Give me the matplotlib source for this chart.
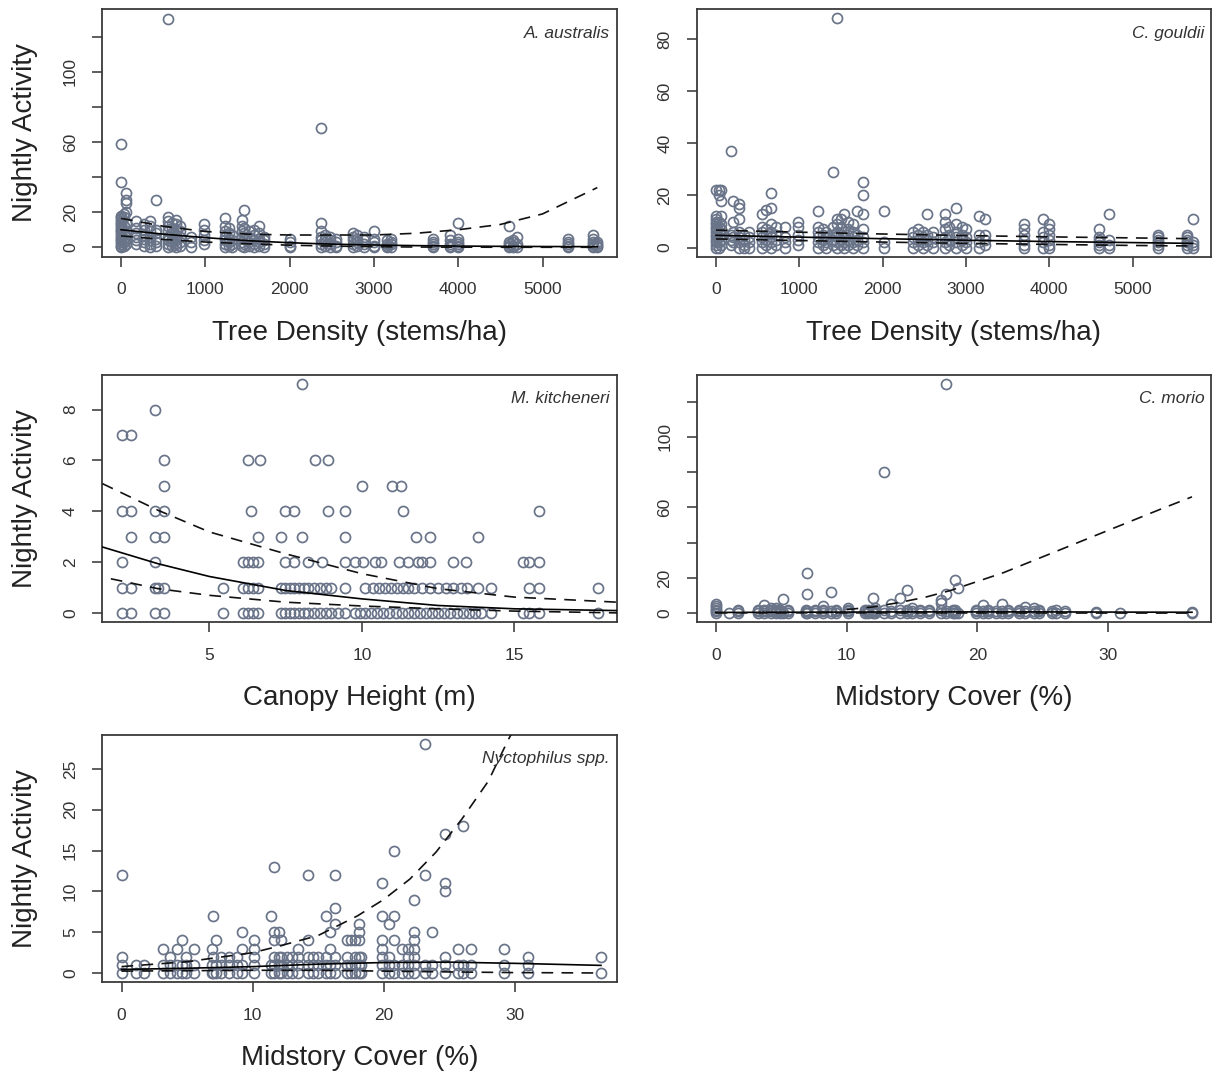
import matplotlib
matplotlib.use("Agg")
import matplotlib.pyplot as plt
import numpy as np

plt.rcParams['font.family'] = ['Liberation Sans', 'DejaVu Sans']

# ---------------- data ----------------
# Panel 1: A. australis vs tree density
aa_sites = [0, 30, 65, 175, 270, 340, 410, 555, 600, 650, 700, 830, 980, 1230, 1280,
            1320, 1440, 1460, 1520, 1580, 1640, 1700, 2000, 2370, 2420, 2480, 2550,
            2750, 2800, 2880, 3000, 3150, 3200, 3700, 3900, 4000, 4600, 4650, 4700,
            5300, 5600, 5650]
aa_vals = [[0, 1, 2, 3, 4, 5, 6, 7, 8, 9, 10, 11, 12, 13, 14, 15, 16, 17, 18, 37, 59],
           [1, 3, 5, 8, 12, 17, 19], [2, 4, 6, 9, 14, 20, 25, 27, 31],
           [2, 4, 6, 8, 11, 15], [1, 3, 5, 7, 10, 13], [0, 2, 4, 6, 9, 12, 15],
           [1, 3, 5, 8, 10, 27], [0, 2, 4, 6, 9, 12, 15, 17, 130], [1, 3, 5, 8, 11, 14],
           [0, 2, 4, 7, 10, 13, 15.5], [1, 3, 6, 9, 12], [0, 3, 6], [2, 4, 7, 10, 13],
           [0, 2, 4, 6, 9, 12, 16.5], [1, 3, 5, 8, 11], [0, 2, 4, 7],
           [1, 3, 6, 9, 12, 15.6], [0, 2, 5, 8, 11, 21], [1, 3, 6, 9], [0, 2, 4, 7, 10],
           [1, 3, 5, 8, 12], [0, 2, 4, 6], [0, 1, 3, 5], [0, 2, 4, 6, 9, 14, 68],
           [1, 3, 5, 7], [0, 2, 4, 6], [0, 1, 3, 5], [0, 2, 4, 6, 8], [1, 3, 5, 7],
           [0, 2, 4, 6], [0, 1, 3, 5, 9.3], [0, 1, 2, 4], [0, 2, 3, 5], [0, 1, 2, 3, 5],
           [0, 1, 2, 4, 7], [0, 1, 2, 3, 5, 14], [0, 1, 2, 3, 12], [0, 1, 3, 4],
           [0, 2, 6], [0, 1, 2, 3, 5], [0, 1, 2, 3, 5, 7], [0, 1, 2, 3]]
aa_cx = [0, 500, 1000, 1500, 2000, 2500, 3000, 3500, 4000, 4500, 5000, 5650]
aa_fit = [10, 7.5, 5.5, 3.8, 2.6, 1.8, 1.3, 0.95, 0.7, 0.55, 0.45, 0.35]
aa_hi = [16.5, 12, 9, 7.5, 7, 7, 7, 8, 10, 13, 19, 34]
aa_lo = [6.5, 4.5, 3.0, 2.0, 1.2, 0.7, 0.35, 0.15, 0.08, 0.04, 0.02, 0.01]

# Panel 2: C. gouldii vs tree density
cg_sites = [0, 30, 65, 185, 200, 280, 340, 400, 555, 600, 660, 720, 830, 985, 1225,
            1280, 1320, 1400, 1450, 1500, 1530, 1580, 1640, 1690, 1760, 2020, 2370,
            2420, 2480, 2530, 2600, 2750, 2800, 2880, 2950, 3000, 3160, 3225, 3700,
            3920, 4000, 4600, 4720, 5300, 5650, 5720]
cg_vals = [[0, 1, 2, 3, 4, 5, 6, 7, 8, 9, 10, 11, 12, 22], [0, 2, 4, 6, 8, 10, 20, 22],
           [1, 3, 5, 7, 9, 12, 18, 22], [1, 3, 5, 37], [2, 4, 6, 10, 18],
           [0, 2, 4, 6, 11, 15, 16.6], [0, 1, 3, 5], [0, 2, 4, 6], [0, 2, 4, 6, 8, 13],
           [1, 3, 5, 7, 14.5], [0, 2, 4, 6, 9, 15, 21], [1, 3, 5, 8], [0, 2, 4, 8],
           [1, 3, 5, 8, 10], [0, 2, 4, 6, 8, 14], [1, 3, 5, 7], [0, 2, 4, 6],
           [1, 3, 5, 8, 29], [0, 2, 4, 6, 9, 11, 88], [1, 3, 5, 8, 11], [0, 2, 4, 6, 13],
           [1, 3, 5, 7, 10], [0, 2, 4, 6, 9], [1, 3, 5, 14], [0, 2, 4, 7, 13, 20, 25],
           [0, 2, 14], [0, 2, 4, 6], [1, 3, 5, 7], [0, 2, 4, 6], [1, 3, 5, 13],
           [0, 2, 4, 6], [0, 2, 4, 7, 10, 13], [1, 3, 5, 8], [0, 2, 4, 6, 9, 15],
           [1, 3, 5, 8], [0, 2, 4, 7], [0, 2, 5, 12], [1, 3, 5, 11], [0, 1, 3, 5, 7, 9],
           [0, 2, 4, 6, 11], [0, 1, 3, 5, 7, 9], [0, 1, 2, 3, 4, 7], [0, 1, 3, 13],
           [0, 1, 2, 3, 4, 5], [0, 1, 2, 3, 4, 5], [0, 1, 2, 11]]
cg_cx = [0, 1000, 2000, 3000, 4000, 5000, 5720]
cg_fit = [4.7, 4.0, 3.4, 2.8, 2.3, 1.9, 1.6]
cg_hi = [6.7, 5.9, 5.2, 4.6, 4.1, 3.7, 3.4]
cg_lo = [3.3, 2.7, 2.1, 1.6, 1.2, 0.8, 0.6]

# Panel 3: M. kitcheneri vs canopy height
mk_x = [8.04,
        3.22,
        2.13, 2.42,
        3.51, 6.27, 6.65, 8.45, 8.88,
        3.51, 10.0, 10.97, 11.27,
        2.13, 2.42, 3.22, 3.51, 6.36, 7.49, 7.78, 8.88, 9.46, 11.33, 15.79,
        2.42, 3.22, 3.51, 6.59, 7.35, 8.04, 9.46, 11.76, 12.23, 13.79,
        2.13, 3.22, 6.1, 6.27, 6.42, 6.59, 7.49, 7.78, 8.23, 8.68, 9.46, 9.78, 10.04,
        10.43, 10.62, 11.2, 11.52, 11.85, 11.98, 12.23, 13.0, 13.4, 15.27, 15.47, 15.79,
        2.13, 2.42, 3.22, 3.32, 3.51, 5.45, 6.1, 6.27, 6.42, 6.59, 7.35, 7.49, 7.64,
        7.78, 7.95, 8.1, 8.23, 8.42, 8.62, 8.81, 9.0, 9.46, 10.1, 10.35, 10.55, 10.75,
        10.95, 11.14, 11.33, 11.52, 11.72, 11.98, 12.23, 12.5, 12.75, 13.0, 13.26,
        13.45, 13.79, 14.24, 15.47, 15.79, 17.73,
        2.13, 2.42, 3.22, 3.51, 5.45, 6.1, 6.27, 6.42, 6.59, 7.35, 7.49, 7.64, 7.78,
        7.95, 8.1, 8.23, 8.42, 8.62, 8.81, 9.0, 9.2, 9.46, 9.78, 9.95, 10.1, 10.3, 10.5,
        10.7, 10.9, 11.1, 11.3, 11.5, 11.7, 11.9, 12.1, 12.3, 12.5, 12.7, 12.9, 13.1,
        13.3, 13.5, 13.7, 13.9, 14.24, 15.27, 15.47, 15.79, 17.73]
mk_y = ([9] + [8] + [7] * 2 + [6] * 5 + [5] * 4 + [4] * 11 + [3] * 10 + [2] * 25
        + [1] * 43 + [0] * 49)
mk_cx = [1.49, 3.32, 5, 7.5, 10, 12.5, 15, 18.37]
mk_fit = [2.6, 1.94, 1.44, 0.89, 0.56, 0.30, 0.17, 0.10]
mk_hi = [5.09, 4.04, 3.19, 2.33, 1.55, 0.96, 0.63, 0.43]
mk_lcx = [1.77, 3.32, 5, 7.5, 10, 12.5, 15, 18.37]
mk_lo = [1.35, 0.96, 0.70, 0.43, 0.28, 0.17, 0.08, 0.01]

# Panel 4: C. morio vs midstory cover
cm_sites = [0, 1.0, 1.7, 3.2, 3.7, 4.2, 4.6, 4.9, 5.1, 5.5, 6.9, 7.0, 7.6, 8.2, 8.8,
            9.2, 10.1, 11.4, 11.6, 12.0, 12.2, 12.85, 13.4, 14.1, 14.6, 15.0, 15.6,
            16.3, 17.2, 17.6, 18.1, 18.3, 18.5, 19.9, 20.4, 20.8, 21.4, 21.9, 22.3,
            23.2, 23.6, 24.3, 24.7, 25.7, 26.0, 26.7, 29.1, 30.9, 36.4]
cm_vals = [[0, 1, 2, 3, 4, 5], [0], [0, 1, 2], [0, 1, 2], [0, 1, 2, 4.4], [0, 1, 2, 3],
           [0, 1, 2, 3], [0, 1, 2], [0, 7.8], [0, 1, 2], [0, 1, 2], [0, 1, 11, 23],
           [0, 1, 2], [0, 1, 2, 4], [0, 1, 12], [0, 1, 2], [0, 1, 2, 3], [0, 1, 2],
           [0, 1, 2], [0, 1, 2, 8.8], [0, 1, 3], [0, 2, 80], [0, 1, 5.3], [0, 2, 8.8],
           [0, 1, 2, 13], [0, 1, 3], [0, 1, 2], [0, 1, 2], [0, 2, 5.7, 7.6],
           [0, 1, 11, 130], [0, 1, 2], [0, 2, 18.7], [0, 14], [0, 1, 2], [0, 1, 4.4],
           [0, 1, 2], [0, 1], [0, 1, 5.3], [0, 1, 2], [0, 1, 2], [0, 1, 3.4], [0, 1, 3],
           [0, 1, 2], [0, 1], [0, 2], [0, 1], [0, 0.6], [0], [0, 0.5]]
cm_cx = [0, 5, 10, 15, 20, 25, 30, 36.4]
cm_fit = [0.4, 0.5, 0.6, 0.7, 0.7, 0.7, 0.6, 0.5]
cm_lo = [0.15, 0.15, 0.15, 0.12, 0.1, 0.08, 0.05, 0.03]
cm_hcx = [10, 12, 14, 16, 18, 20, 22, 24, 26, 28, 30, 32, 34, 36.4]
cm_hi = [2, 3.5, 6, 9, 13, 18, 23, 29, 35, 41, 47, 53, 59, 66]

# Panel 5: Nyctophilus spp. vs midstory cover
ny_sites = [0, 1.1, 1.7, 3.2, 3.7, 4.2, 4.6, 4.9, 5.5, 6.9, 7.0, 7.2, 7.6, 8.2, 8.8,
            9.2, 10.1, 11.4, 11.6, 12.0, 12.2, 12.6, 13.0, 13.5, 14.2, 14.6, 15.0,
            15.6, 15.9, 16.3, 17.2, 17.5, 17.8, 18.1, 18.3, 19.9, 20.4, 20.8, 21.4,
            21.9, 22.3, 23.2, 23.7, 24.7, 25.7, 26.1, 26.7, 29.2, 31.0, 36.6]
ny_vals = [[0, 1, 2, 12], [0, 1], [0, 1], [0, 1, 3], [0, 1, 2], [0, 1, 3], [0, 1, 4],
           [0, 1, 2], [0, 1, 3], [0, 1, 3], [0, 2, 7], [0, 1, 4], [0, 1, 2], [0, 1, 2],
           [0, 1, 2], [0, 1, 3, 5], [0, 1, 2, 3, 4], [0, 1, 7], [0, 1, 2, 4, 5, 13],
           [0, 1, 2, 5], [0, 1, 2, 4], [0, 1, 2], [0, 1, 2], [0, 1, 2, 3],
           [0, 1, 2, 4, 12], [0, 1, 2], [0, 1, 2], [0, 1, 2, 7], [0, 1, 3, 5],
           [0, 1, 2, 6, 8, 12], [0, 1, 2, 4], [0, 1, 4], [0, 1, 2, 4], [0, 1, 2, 4, 5, 6],
           [0, 1, 2], [0, 1, 2, 3, 4, 7, 11], [0, 1, 2, 6], [0, 1, 4, 7, 15], [0, 1, 3],
           [0, 1, 2, 3], [0, 1, 2, 3, 4, 5, 9], [0, 1, 12, 28], [0, 1, 5],
           [0, 1, 2, 10, 11, 17], [0, 1, 3], [0, 1, 18], [0, 1, 3], [0, 1, 3], [0, 1, 2],
           [0, 2]]
ny_cx = [0, 5, 10, 15, 20, 25, 30, 36.6]
ny_fit = [0.45, 0.6, 0.8, 1.1, 1.3, 1.35, 1.2, 0.95]
ny_lo = [0.25, 0.3, 0.35, 0.35, 0.25, 0.15, 0.07, 0.02]
ny_hcx = [0, 5, 10, 12, 15, 18, 20, 22, 24, 26, 28, 29.5, 30.5]
ny_hi = [0.8, 1.4, 2.5, 3.3, 4.6, 7.0, 9.0, 11.5, 14.8, 18.9, 23.5, 28.5, 31.5]


def expand(sites, vals):
    xs, ys = [], []
    for s, v in zip(sites, vals):
        xs += [s] * len(v)
        ys += list(v)
    return xs, ys


# ---------------- figure ----------------
W, H = 1213, 1077
fig = plt.figure(figsize=(W / 100, H / 100), dpi=100)
axw = 514.4 / W
axh = 247.4 / H
lefts = [102.3 / W, 696.7 / W]
bottoms = [1 - 256.7 / H, 1 - 622.3 / H, 1 - 982.3 / H]

PT_COL = '#6a7489'
TICK_FS = 12.5
LAB_FS = 20


def panel(ax, x, y, curves, xlim, ylim, xticks, yticks, ylabels, xlabel, species):
    ax.plot(x, y, linestyle='none', marker='o', ms=7.2, mfc='none', mec=PT_COL, mew=1.25,
            zorder=2)
    for cx, cy, ls in curves:
        if ls == 'solid':
            ax.plot(cx, cy, color='black', lw=1.2, zorder=3)
        else:
            ax.plot(cx, cy, color='#111111', lw=1.2, dashes=(7, 5), zorder=3)
    ax.set_xlim(*xlim)
    ax.set_ylim(*ylim)
    ax.set_xticks(xticks)
    ax.set_xticklabels([str(t) for t in xticks])
    ax.set_yticks(yticks)
    ax.set_yticklabels(ylabels)
    ax.tick_params(axis='both', direction='out', length=7.5, width=1.1, color='#333333',
                   labelsize=TICK_FS, labelcolor='#333333')
    ax.tick_params(axis='x', pad=11)
    ax.tick_params(axis='y', pad=10)
    for lab in ax.get_yticklabels():
        lab.set_rotation(90)
        lab.set_va('center')
        lab.set_ha('right')
    for sp in ax.spines.values():
        sp.set_linewidth(1.3)
        sp.set_color('#3a3a3a')
    ax.set_xlabel(xlabel, fontsize=LAB_FS, color='#222222')
    ax.xaxis.set_label_coords(0.5, -76 / 247.4)
    ax.xaxis.label.set_va('center')
    ax.text(0.987, 0.903, species, transform=ax.transAxes, ha='right', va='center',
            fontsize=12.5, style='italic', color='#333333')


def add_ylabel(ax):
    ax.set_ylabel('Nightly Activity', fontsize=LAB_FS, color='#222222')
    ax.yaxis.set_label_coords(-77 / 514.4, 0.5)
    ax.yaxis.label.set_va('center')


# Panel 1
ax1 = fig.add_axes([lefts[0], bottoms[0], axw, axh])
x1, y1 = expand(aa_sites, aa_vals)
panel(ax1, x1, y1, [(aa_cx, aa_fit, 'solid'), (aa_cx, aa_hi, 'dash'), (aa_cx, aa_lo, 'dash')],
      (-222, 5880), (-5.35, 135.5), [0, 1000, 2000, 3000, 4000, 5000],
      [0, 20, 40, 60, 80, 100, 120], ['0', '20', '', '60', '', '100', ''],
      'Tree Density (stems/ha)', 'A. australis')
add_ylabel(ax1)

# Panel 2
ax2 = fig.add_axes([lefts[1], bottoms[0], axw, axh])
x2, y2 = expand(cg_sites, cg_vals)
panel(ax2, x2, y2, [(cg_cx, cg_fit, 'solid'), (cg_cx, cg_hi, 'dash'), (cg_cx, cg_lo, 'dash')],
      (-232, 5942), (-3.52, 91.52), [0, 1000, 2000, 3000, 4000, 5000],
      [0, 20, 40, 60, 80], ['0', '20', '40', '60', '80'],
      'Tree Density (stems/ha)', 'C. gouldii')

# Panel 3
ax3 = fig.add_axes([lefts[0], bottoms[1], axw, axh])
panel(ax3, mk_x, mk_y, [(mk_cx, mk_fit, 'solid'), (mk_cx, mk_hi, 'dash'), (mk_lcx, mk_lo, 'dash')],
      (1.49, 18.35), (-0.36, 9.36), [5, 10, 15],
      [0, 2, 4, 6, 8], ['0', '2', '4', '6', '8'],
      'Canopy Height (m)', 'M. kitcheneri')
add_ylabel(ax3)

# Panel 4
ax4 = fig.add_axes([lefts[1], bottoms[1], axw, axh])
x4, y4 = expand(cm_sites, cm_vals)
panel(ax4, x4, y4, [(cm_cx, cm_fit, 'solid'), (cm_hcx, cm_hi, 'dash'), (cm_cx, cm_lo, 'dash')],
      (-1.46, 37.86), (-5.2, 135.2), [0, 10, 20, 30],
      [0, 20, 40, 60, 80, 100, 120], ['0', '20', '', '60', '', '100', ''],
      'Midstory Cover (%)', 'C. morio')

# Panel 5
ax5 = fig.add_axes([lefts[0], bottoms[2], axw, axh])
x5, y5 = expand(ny_sites, ny_vals)
panel(ax5, x5, y5, [(ny_cx, ny_fit, 'solid'), (ny_hcx, ny_hi, 'dash'), (ny_cx, ny_lo, 'dash')],
      (-1.47, 37.8), (-1.12, 29.16), [0, 10, 20, 30],
      [0, 5, 10, 15, 20, 25], ['0', '5', '10', '15', '20', '25'],
      'Midstory Cover (%)', 'Nyctophilus spp.')
add_ylabel(ax5)

fig.savefig('out.png', dpi=100)
